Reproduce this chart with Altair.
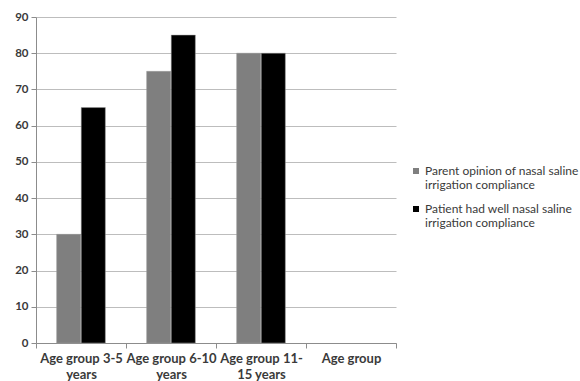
import altair as alt
import pandas as pd

categories = ["Age group 3-5|years", "Age group 6-10|years", "Age group 11-|15 years", "Age group"]
series = ["Parent opinion of nasal saline|irrigation compliance",
          "Patient had well nasal saline|irrigation compliance"]
parent_vals = [30, 75, 80]
patient_vals = [65, 85, 80]

rows = []
for i, c in enumerate(categories[:3]):
    rows.append({"cat": c, "series": series[0], "value": parent_vals[i]})
    rows.append({"cat": c, "series": series[1], "value": patient_vals[i]})
df = pd.DataFrame(rows)

FONT = "Lato"
TXT = "#3a3a3a"

chart = alt.Chart(df).mark_bar(stroke="#9a9a9a", strokeWidth=0.5).encode(
    x=alt.X("cat:N", sort=categories,
            scale=alt.Scale(domain=categories, paddingInner=0, paddingOuter=0),
            axis=alt.Axis(title=None, labelAngle=0, tickBand="extent",
                          labelExpr="split(datum.label, '|')",
                          labelFont=FONT, labelFontWeight="bold", labelFontSize=13,
                          labelColor=TXT, labelLineHeight=16, labelPadding=4,
                          domainColor="#8c8c8c", tickColor="#8c8c8c", tickSize=5,
                          grid=False, labelLimit=200)),
    xOffset=alt.XOffset("series:N", sort=series,
                        scale=alt.Scale(paddingInner=0.02, paddingOuter=0.84)),
    y=alt.Y("value:Q", scale=alt.Scale(domain=[0, 90]),
            axis=alt.Axis(title=None, values=list(range(0, 91, 10)), grid=True,
                          labelFont=FONT, labelFontWeight="bold", labelFontSize=11.5,
                          labelColor=TXT, gridColor="#bdbdbd", gridWidth=1, gridOpacity=1,
                          domainColor="#8c8c8c", tickColor="#8c8c8c", tickSize=5,
                          labelPadding=3)),
    color=alt.Color("series:N", sort=series,
                    scale=alt.Scale(domain=series, range=["#7f7f7f", "#000000"]),
                    legend=alt.Legend(title=None, orient="none", legendX=374, legendY=148,
                                      labelExpr="split(datum.label, '|')",
                                      labelFont=FONT, labelFontSize=12, labelColor=TXT,
                                      labelLimit=250, symbolType="square", symbolSize=36,
                                      symbolStrokeWidth=0, rowPadding=12, labelOffset=3,
                                      labelBaseline="middle")),
).properties(
    width=360, height=326,
    autosize="none",
    padding={"left": 36, "top": 17, "right": 184, "bottom": 38},
).configure_view(stroke=None)

chart.save("out.html", embed_options={"renderer": "svg", "actions": False})
